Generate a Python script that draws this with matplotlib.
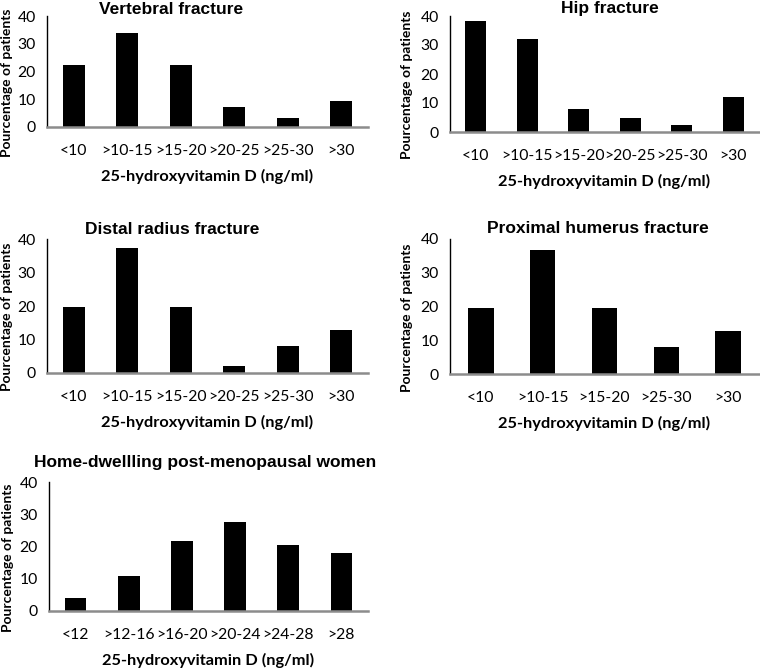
import matplotlib.pyplot as plt

# Datos (porcentaje de pacientes)
cats_fx = ['<10', '>10-15', '>15-20', '>20-25', '>25-30', '>30']
cats_hum = ['<10', '>10-15', '>15-20', '>25-30', '>30']
cats_women = ['<12', '>12-16', '>16-20', '>20-24', '>24-28', '>28']

vertebral = [22.3, 33.9, 22.3, 7.2, 3.2, 9.4]
hip = [38.3, 32.2, 7.8, 4.8, 2.3, 12.2]
distal_radius = [19.7, 37.2, 19.7, 2.2, 8.1, 12.7]
prox_humerus = [19.6, 36.7, 19.6, 8.1, 12.6]
women = [3.9, 10.8, 21.7, 27.6, 20.5, 18.1]

W, H = 760, 669
fig = plt.figure(figsize=(W / 100, H / 100), dpi=100)

tick_font = 'Lato'
label_font = 'Lato'
title_font = 'Liberation Sans'


def panel(box, cats, vals, title, title_xy, ylab_x):
    x0, y0, x1, y1 = box  # píxeles: izquierda, arriba(40), derecha, abajo(0)
    ax = fig.add_axes([x0 / W, 1 - y1 / H, (x1 - x0) / W, (y1 - y0) / H])
    ax.bar(range(len(cats)), vals, width=0.41, color='black')
    ax.set_xlim(-0.5, len(cats) - 0.5)
    ax.set_ylim(0, 40)
    ax.set_yticks([0, 10, 20, 30, 40])
    ax.set_xticks(range(len(cats)))
    ax.set_xticklabels(cats)
    for lab in ax.get_xticklabels() + ax.get_yticklabels():
        lab.set_fontfamily(tick_font)
        lab.set_fontsize(11.3)
    ax.tick_params(axis='both', length=0)
    ax.tick_params(axis='x', pad=12)
    ax.tick_params(axis='y', pad=8)
    ax.spines['top'].set_visible(False)
    ax.spines['right'].set_visible(False)
    ax.spines['left'].set_color('black')
    ax.spines['left'].set_linewidth(1.0)
    ax.spines['bottom'].set_color('#8c8c8c')
    ax.spines['bottom'].set_linewidth(1.8)
    ax.set_xlabel('25-hydroxyvitamin D (ng/ml)', fontfamily=label_font,
                  fontweight='bold', fontsize=11.8, labelpad=8)
    ax.set_ylabel('Pourcentage of patients', fontfamily=label_font,
                  fontweight='bold', fontsize=10)
    # etiqueta y: borde derecho en ylab_x, centrada verticalmente sobre el eje
    yc = (y0 + y1) / 2 + 11
    ax.yaxis.set_label_coords((ylab_x - x0) / (x1 - x0), (y1 - yc) / (y1 - y0))
    fig.text(title_xy[0] / W, 1 - title_xy[1] / H, title, fontfamily=title_font,
             fontweight='bold', fontsize=12.5, ha='center', va='center')
    return ax


panel((47, 16, 368, 127), cats_fx, vertebral, 'Vertebral fracture', (171, 9), 13)
panel((450, 16, 759, 132), cats_fx, hip, 'Hip fracture', (610, 9), 413)
panel((47, 239, 368, 373), cats_fx, distal_radius, 'Distal radius fracture', (172, 230), 13)
panel((450, 239, 759, 374), cats_hum, prox_humerus, 'Proximal humerus fracture', (598, 229), 413)
panel((49, 482, 368, 611), cats_women, women, 'Home-dwellling post-menopausal women', (205, 462), 14)

fig.savefig('out.png', dpi=100)
